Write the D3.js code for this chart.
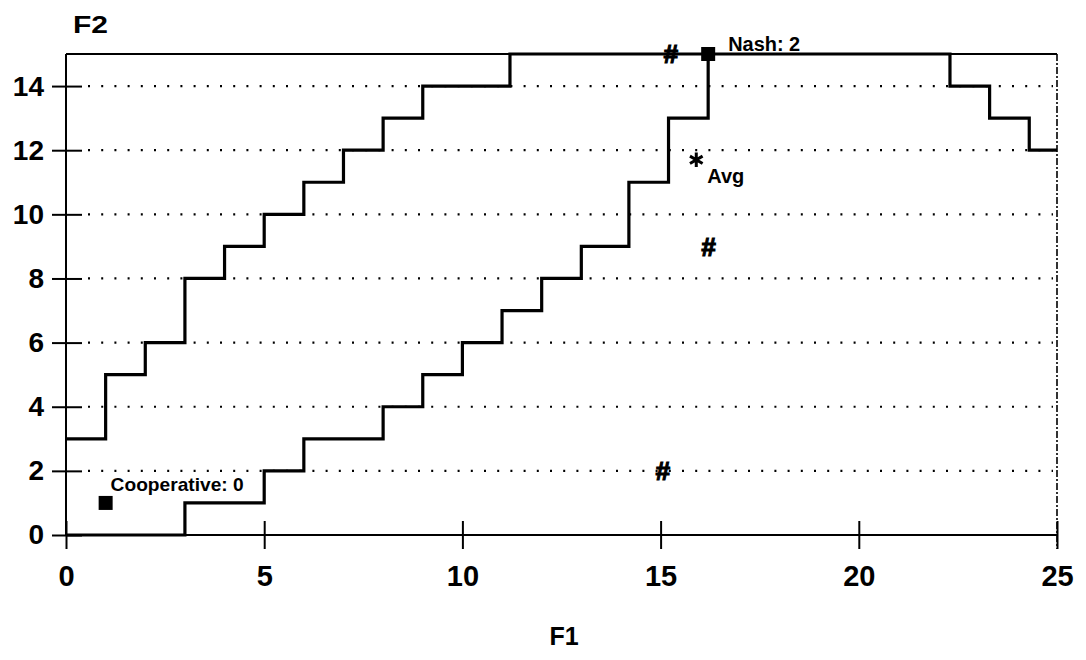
<!DOCTYPE html>
<html>
<head>
<meta charset="utf-8">
<script src="https://cdnjs.cloudflare.com/ajax/libs/d3/7.8.5/d3.min.js"></script>
<style>
  body { margin: 0; background: #fff; }
  text { font-family: "Liberation Sans", Arial, sans-serif; fill: #000; }
</style>
</head>
<body>
<div id="chart"></div>
<script>
// upper-left staircase (step after)
var upperX = [0, 1, 2, 3, 4, 5, 6, 7, 8, 9, 11.2, 22.3, 23.3, 24.3, 25];
var upperY = [3, 5, 6, 8, 9, 10, 11, 12, 13, 14, 15, 14, 13, 12, 12];
// lower-right staircase
var lowerX = [0, 3, 5, 6, 8, 9, 10, 11, 12, 13, 14.2, 15.2, 16.2];
var lowerY = [0, 1, 2, 3, 4, 5, 6, 7, 8, 9, 11, 13, 15];

var xTicks = [0, 5, 10, 15, 20, 25];
var yTicks = [0, 2, 4, 6, 8, 10, 12, 14];
var gridY = [2, 4, 6, 8, 10, 12, 14];

var squarePts = [{x: 1, y: 1, label: "Cooperative: 0"}, {x: 16.2, y: 15, label: "Nash: 2"}];
var hashPts = [{x: 15.25, y: 15}, {x: 16.2, y: 9}, {x: 15.05, y: 2}];
var avgPt = {x: 15.9, y: 11.7, label: "Avg"};

var width = 1086, height = 660;

var svg = d3.select("#chart").append("svg")
    .attr("width", width)
    .attr("height", height);

var x = d3.scaleLinear().domain([0, 25]).range([66, 1057]);
var y = d3.scaleLinear().domain([0, 15]).range([535, 54]);

// dotted grid
svg.selectAll(".grid").data(gridY).enter().append("line")
    .attr("class", "grid")
    .attr("x1", x(0) + 22).attr("x2", x(25) - 4)
    .attr("y1", d => y(d)).attr("y2", d => y(d))
    .style("stroke", "#000")
    .style("stroke-width", 2.2)
    .style("stroke-dasharray", "2,11.2");

// frame
svg.append("line")
    .attr("x1", x(0)).attr("x2", x(25)).attr("y1", y(15)).attr("y2", y(15))
    .style("stroke", "#000").style("stroke-width", 2);
svg.append("line")
    .attr("x1", x(25)).attr("x2", x(25)).attr("y1", y(15)).attr("y2", y(0) + 14)
    .style("stroke", "#000").style("stroke-width", 1.6)
    .style("stroke-dasharray", "7,2,2,2");
svg.append("line")
    .attr("x1", x(0)).attr("x2", x(0)).attr("y1", y(15)).attr("y2", y(0))
    .style("stroke", "#000").style("stroke-width", 2);
svg.append("line")
    .attr("x1", x(0)).attr("x2", x(25)).attr("y1", y(0)).attr("y2", y(0))
    .style("stroke", "#000").style("stroke-width", 2.2);

// axes
var yAxis = svg.append("g")
    .attr("transform", "translate(" + x(0) + ",0)")
    .call(d3.axisLeft(y).tickValues(yTicks).tickSizeOuter(0).tickSize(14));
yAxis.select(".domain").remove();
yAxis.selectAll(".tick line").attr("x1", 16).attr("x2", -14)
    .style("stroke-width", 2);
yAxis.selectAll(".tick text")
    .attr("x", -22)
    .style("font-size", "28px")
    .style("font-weight", "bold")
    .style("font-family", "'Liberation Sans', Arial, sans-serif");

var xAxis = svg.append("g")
    .attr("transform", "translate(0," + y(0) + ")")
    .call(d3.axisBottom(x).tickValues(xTicks).tickSizeOuter(0).tickSize(14));
xAxis.select(".domain").remove();
xAxis.selectAll(".tick line").attr("y1", -14).attr("y2", 14)
    .style("stroke-width", 2);
xAxis.selectAll(".tick text")
    .attr("y", 30)
    .style("font-size", "29px")
    .style("font-weight", "bold")
    .style("font-family", "'Liberation Sans', Arial, sans-serif");

// staircases
var line = d3.line()
    .x(d => x(d[0]))
    .y(d => y(d[1]))
    .curve(d3.curveStepAfter);

[[upperX, upperY], [lowerX, lowerY]].map(s => {
  svg.append("path")
      .datum(d3.zip(s[0], s[1]))
      .attr("d", line)
      .style("fill", "none")
      .style("stroke", "#000")
      .style("stroke-width", 3.2);
});

// markers
svg.selectAll(".sq").data(squarePts).enter().append("rect")
    .attr("class", "sq")
    .attr("x", d => x(d.x) - 7).attr("y", d => y(d.y) - 7)
    .attr("width", 14).attr("height", 14)
    .style("fill", "#000");

svg.append("text")
    .attr("x", x(1) + 5).attr("y", y(1) - 12)
    .attr("textLength", 133).attr("lengthAdjust", "spacingAndGlyphs")
    .style("font-size", "19px").style("font-weight", "bold")
    .text(squarePts[0].label);

svg.append("text")
    .attr("x", x(16.2) + 20).attr("y", y(15) - 3)
    .attr("textLength", 72).attr("lengthAdjust", "spacingAndGlyphs")
    .style("font-size", "20px").style("font-weight", "bold")
    .text(squarePts[1].label);

svg.selectAll(".hash").data(hashPts).enter().append("text")
    .attr("class", "hash")
    .attr("x", d => x(d.x)).attr("y", d => y(d.y))
    .attr("dy", "0.35em")
    .attr("text-anchor", "middle")
    .style("font-size", "26px").style("font-weight", "bold").style("font-style", "italic")
    .style("stroke", "#000").style("stroke-width", 1.2)
    .text("#");

svg.append("path")
    .attr("transform", "translate(" + x(avgPt.x) + "," + y(avgPt.y) + ")")
    .attr("d", d3.symbol().type(d3.symbolAsterisk).size(150))
    .style("fill", "none").style("stroke", "#000").style("stroke-width", 3);

svg.append("text")
    .attr("x", x(avgPt.x) + 11).attr("y", y(avgPt.y) + 23)
    .style("font-size", "20px").style("font-weight", "bold")
    .text(avgPt.label);

// axis titles
svg.append("text")
    .attr("x", 73).attr("y", 33)
    .attr("textLength", 35).attr("lengthAdjust", "spacingAndGlyphs")
    .style("font-size", "24px").style("font-weight", "bold")
    .text("F2");

svg.append("text")
    .attr("x", 564).attr("y", 645)
    .attr("text-anchor", "middle")
    .style("font-size", "25px").style("font-weight", "bold")
    .text("F1");
</script>
</body>
</html>
